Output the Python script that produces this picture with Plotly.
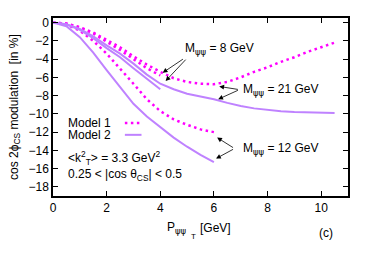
import plotly.graph_objects as go

# P_T grid (GeV)
pt_short = [0, 0.5, 1, 1.5, 2, 2.5, 3, 3.5, 4]
pt_mid = [0, 0.5, 1, 1.5, 2, 2.5, 3, 3.5, 4, 4.5, 5, 5.5, 6]
pt_long = [0, 0.5, 1, 1.5, 2, 2.5, 3, 3.5, 4, 4.5, 5, 5.5, 6,
           6.5, 7, 7.5, 8, 8.5, 9, 9.5, 10, 10.5]

# Model 1 (dotted)
m1_8 = [0, -0.12, -0.55, -1.2, -2.1, -3.0, -4.0, -5.0, -5.8]
m1_12 = [0, -0.2, -0.9, -2.0, -3.4, -5.0, -6.7, -8.4, -9.7,
         -10.6, -11.2, -11.7, -12.0]
m1_21 = [0, -0.1, -0.5, -1.1, -1.9, -2.7, -3.7, -4.6, -5.4, -6.1, -6.5,
         -6.7, -6.75, -6.5, -6.0, -5.4, -4.9, -4.3, -3.8, -3.2, -2.7, -2.2]

# Model 2 (solid)
m2_8 = [0, -0.2, -0.8, -1.7, -2.8, -3.8, -5.0, -6.2, -7.3]
m2_12 = [0, -0.4, -1.6, -3.3, -5.2, -7.1, -8.9, -10.3, -11.5,
         -12.6, -13.6, -14.5, -15.3]
m2_21 = [0, -0.18, -0.7, -1.5, -2.5, -3.4, -4.5, -5.7, -6.7, -7.3, -7.8,
         -8.1, -8.4, -8.8, -9.15, -9.4, -9.6, -9.72, -9.8, -9.85, -9.9, -9.92]

MAGENTA = "#ff00ff"
PURPLE = "#bf82ff"
DOT = "2.5px,3.5px"
FONT = "Liberation Sans, DejaVu Sans, sans-serif"
PSI = '<span style="font-family:DejaVu Sans">ψψ</span>'

fig = go.Figure()
for x, y in [(pt_short, m1_8), (pt_mid, m1_12), (pt_long, m1_21)]:
    fig.add_trace(go.Scatter(x=x, y=y, mode="lines",
                             line=dict(color=MAGENTA, width=2.5, dash=DOT),
                             showlegend=False))
for x, y in [(pt_short, m2_8), (pt_mid, m2_12), (pt_long, m2_21)]:
    fig.add_trace(go.Scatter(x=x, y=y, mode="lines",
                             line=dict(color=PURPLE, width=2),
                             showlegend=False))

ann = []


def label(x, y, text, size=12, **kw):
    ann.append(dict(x=x, y=y, xref="x", yref="y", text=text, showarrow=False,
                    xanchor="left", yanchor="middle",
                    font=dict(size=size, color="black", family=FONT), **kw))


def paper_text(x, y, text, size=12, **kw):
    ann.append(dict(x=x, y=y, xref="paper", yref="paper", text=text,
                    showarrow=False, yanchor="middle",
                    font=dict(size=size, color="black", family=FONT), **kw))


def arrow(x, y, ax, ay):
    ann.append(dict(x=x, y=y, ax=ax, ay=ay, xref="x", yref="y",
                    axref="x", ayref="y", text="", showarrow=True,
                    arrowhead=2, arrowsize=1.2, arrowwidth=0.8,
                    arrowcolor="black"))


label(4.85, -2.85, f"M<sub>{PSI}</sub> = 8 GeV")
arrow(4.09, -5.5, 4.9, -3.9)
arrow(4.2, -6.4, 5.0, -3.9)

label(7.0, -7.35, f"M<sub>{PSI}</sub> = 21 GeV")
arrow(6.2, -7.0, 6.95, -7.35)
arrow(6.16, -8.4, 6.95, -7.35)

label(7.0, -13.8, f"M<sub>{PSI}</sub> = 12 GeV")
arrow(6.12, -12.6, 6.77, -13.8)
arrow(6.08, -14.9, 6.77, -13.8)

# legend
label(0.5, -10.95, "Model 1")
label(0.5, -12.35, "Model 2")
label(0.5, -14.8, "&lt;k<sup>2</sup><sub>T</sub>&gt; = 3.3 GeV<sup>2</sup>")
label(0.5, -16.7, "0.25 &lt; |cos θ<sub>CS</sub>| &lt; 0.5")

shapes = [
    dict(type="line", xref="x", yref="y", x0=2.68, x1=3.3, y0=-11.0, y1=-11.0,
         line=dict(color=MAGENTA, width=2.5, dash=DOT)),
    dict(type="line", xref="x", yref="y", x0=2.68, x1=3.3, y0=-12.3, y1=-12.3,
         line=dict(color=PURPLE, width=2)),
]

# axis titles
paper_text(-0.129, 0.5, "cos 2ϕ<sub>CS</sub> modulation  [in %]",
           textangle=-90, xanchor="center")
paper_text(0.378, -0.178, f"P<sub>{PSI}</sub>", xanchor="left")
paper_text(0.462, -0.228, "T", size=8, xanchor="left")
paper_text(0.493, -0.178, "[GeV]", xanchor="left")
paper_text(0.927, -0.206, "(c)", xanchor="center")

axis = dict(showgrid=False, zeroline=False, showline=True, linecolor="black",
            linewidth=1.5, mirror="allticks", ticks="inside", ticklen=5,
            tickwidth=1, tickcolor="black",
            tickfont=dict(size=12, color="black", family=FONT))

# page body keeps an 8px margin, so the figure is shrunk by that much
fig.update_layout(
    width=358, height=248,
    margin=dict(l=45, r=18, t=8, b=60),
    plot_bgcolor="white", paper_bgcolor="white",
    xaxis=dict(range=[0, 11], tickvals=[0, 2, 4, 6, 8, 10], **axis),
    yaxis=dict(range=[-19, 0.5], tickvals=list(range(-18, 1, 2)), **axis),
    annotations=ann, shapes=shapes,
)

fig.write_html("out.html")
